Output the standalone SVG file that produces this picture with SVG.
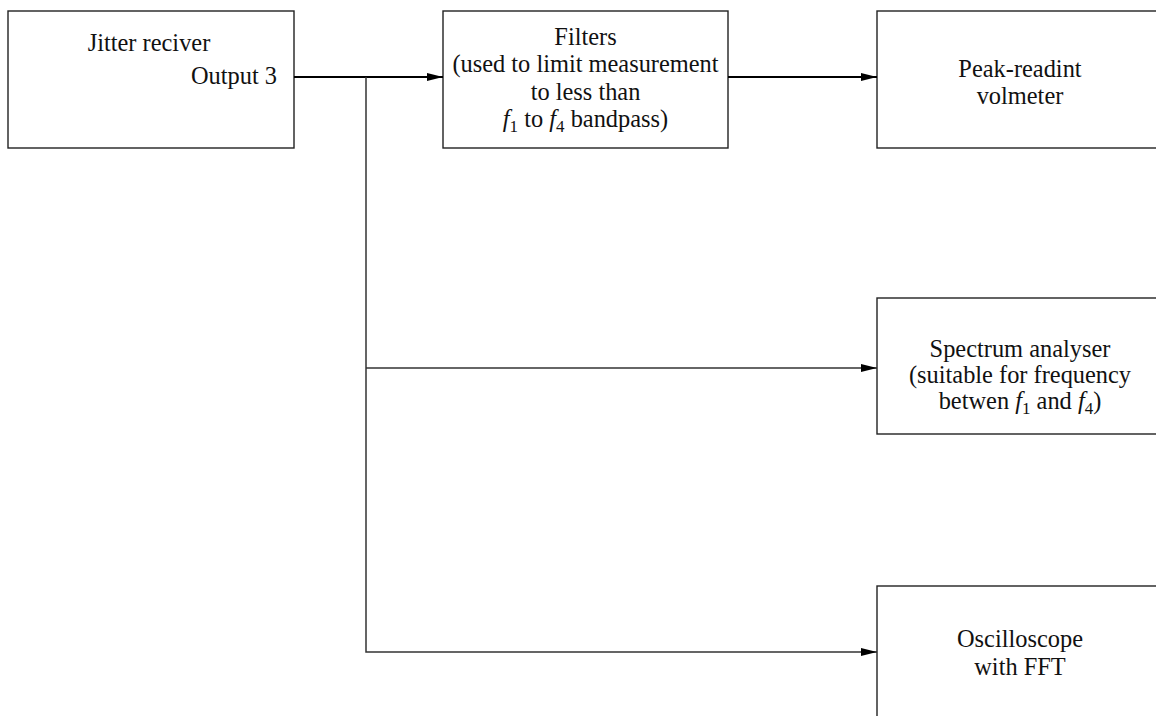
<svg xmlns="http://www.w3.org/2000/svg" width="1156" height="716" viewBox="0 0 1156 716">
<style>
.box{fill:#fff;stroke:#222;stroke-width:1.4}
.t{font-family:"Liberation Serif","Times New Roman",serif;font-size:24.4px;fill:#111;text-anchor:middle}
.r{text-anchor:end}
.i{font-style:italic}
.sub{font-size:17px}
.main{fill:none;stroke:#000;stroke-width:2}
.br{fill:none;stroke:#333;stroke-width:1.5}
</style>
<defs>
<marker id="ah" markerUnits="userSpaceOnUse" markerWidth="18" markerHeight="10" refX="16" refY="4" orient="auto">
<path d="M0,0 L16,4 L0,8 Z" fill="#000"/>
</marker>
</defs>
<rect width="1156" height="716" fill="#fff"/>
<g id="jitter">
<rect class="box" x="8" y="11" width="286" height="137"/>
<text class="t" x="149" y="51">Jitter reciver</text>
<text class="t r" x="277" y="84">Output 3</text>
</g>
<g id="filters">
<rect class="box" x="443" y="11" width="285" height="137"/>
<text class="t" x="585.5" y="45">Filters</text>
<text class="t" x="585.5" y="72">(used to limit measurement</text>
<text class="t" x="585.5" y="100">to less than</text>
<text class="t" x="585.5" y="127"><tspan class="i">f</tspan><tspan class="sub" dy="5">1</tspan><tspan dy="-5"> to </tspan><tspan class="i">f</tspan><tspan class="sub" dy="5">4</tspan><tspan dy="-5"> bandpass)</tspan></text>
</g>
<g id="peak">
<rect class="box" x="877" y="11" width="300" height="137"/>
<text class="t" x="1020" y="77">Peak-readint</text>
<text class="t" x="1020" y="104">volmeter</text>
</g>
<g id="spectrum">
<rect class="box" x="877" y="298" width="300" height="136"/>
<text class="t" x="1020" y="357">Spectrum analyser</text>
<text class="t" x="1020" y="383">(suitable for frequency</text>
<text class="t" x="1020" y="409">betwen <tspan class="i">f</tspan><tspan class="sub" dy="5">1</tspan><tspan dy="-5"> and </tspan><tspan class="i">f</tspan><tspan class="sub" dy="5">4</tspan><tspan dy="-5">)</tspan></text>
</g>
<g id="oscilloscope">
<rect class="box" x="877" y="586" width="300" height="150"/>
<text class="t" x="1020" y="647">Oscilloscope</text>
<text class="t" x="1020" y="675">with FFT</text>
</g>
<g id="connectors">
<line class="main" x1="294" y1="77" x2="443" y2="77" marker-end="url(#ah)"/>
<line class="main" x1="728" y1="77" x2="877" y2="77" marker-end="url(#ah)"/>
<polyline class="br" points="366,77 366,652 877,652" marker-end="url(#ah)"/>
<line class="br" x1="366" y1="368" x2="877" y2="368" marker-end="url(#ah)"/>
</g>
</svg>
